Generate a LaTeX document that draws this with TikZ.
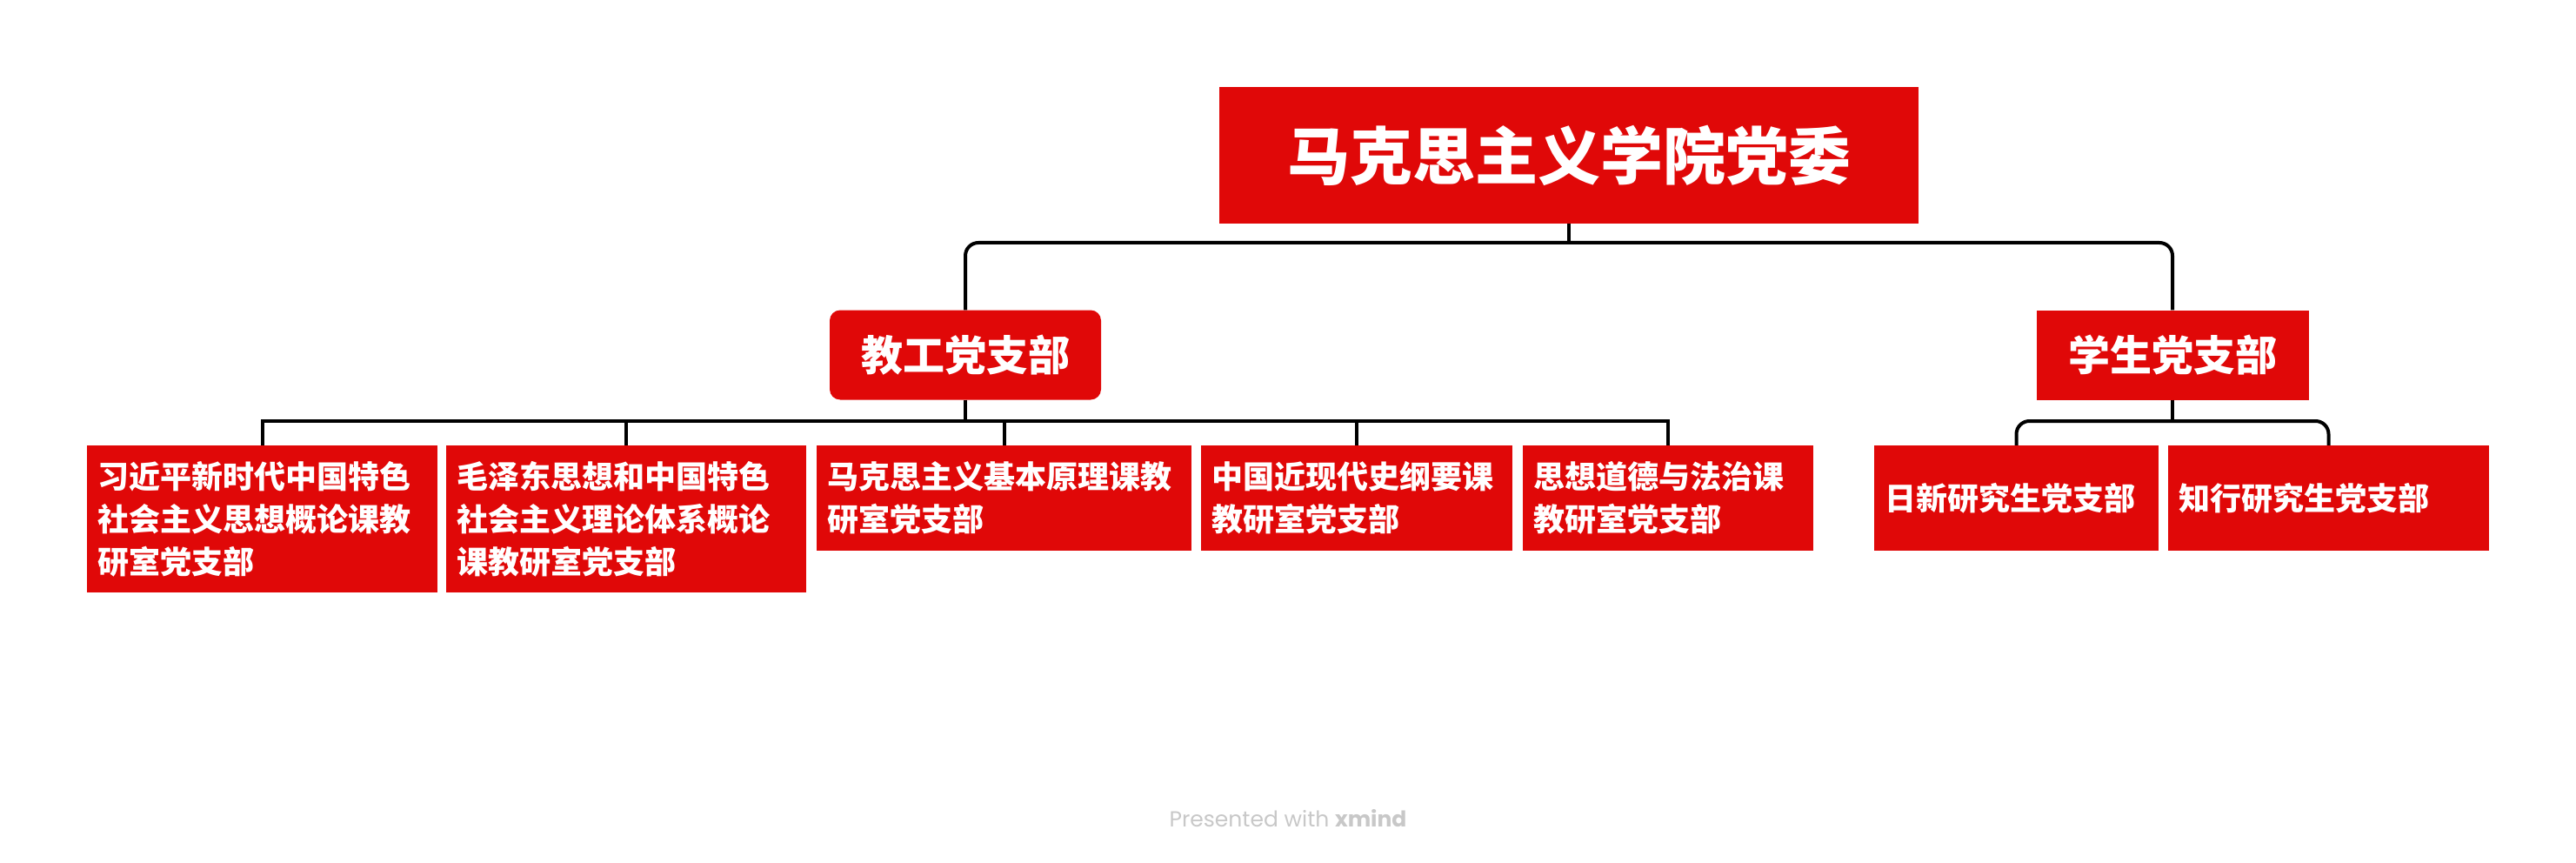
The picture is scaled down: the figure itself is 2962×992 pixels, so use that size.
\documentclass[tikz,border=0pt]{standalone}
\usepackage{fontspec}
\newfontfamily\cjk{Noto Sans CJK SC}
\newfontfamily\wmfont{Poppins}
\definecolor{xred}{RGB}{224,8,8}
\definecolor{wmgray}{RGB}{200,200,200}
\tikzset{
  box/.style={fill=xred, text=white, inner sep=0pt, font=\cjk\bfseries},
  rootbox/.style={box, minimum width=804pt, minimum height=157pt, font=\cjk\bfseries\fontsize{72}{80}\selectfont},
  midbox/.style={box, minimum height=103pt, font=\cjk\bfseries\fontsize{48}{56}\selectfont},
  leafbox/.style={box, inner xsep=12pt, inner ysep=0pt, align=left, text width=#1-24pt, font=\cjk\bfseries\fontsize{36}{49}\selectfont},
  conn/.style={draw=black, line width=4pt},
}
\begin{document}
\begin{tikzpicture}[x=1pt,y=-1pt]
\useasboundingbox[fill=white] (0,0) rectangle (2962,992);
% root
\node[rootbox] (root) at (1804,178.5) {马克思主义学院党委};
% second level
\node[midbox, minimum width=312pt, rounded corners=12pt] (jg) at (1110,408) {教工党支部};
\node[midbox, minimum width=313pt] (xs) at (2498,408) {学生党支部};
% leaves
\node[leafbox=403pt, minimum height=169pt] (c1) at (301.5,596.5) {习近平新时代中国特色\\社会主义思想概论课教\\研室党支部};
\node[leafbox=414pt, minimum height=169pt] (c2) at (720,596.5) {毛泽东思想和中国特色\\社会主义理论体系概论\\课教研室党支部};
\node[leafbox=431pt, minimum height=121pt] (c3) at (1154.5,572.5) {马克思主义基本原理课教\\研室党支部};
\node[leafbox=358pt, minimum height=121pt] (c4) at (1560,572.5) {中国近现代史纲要课\\教研室党支部};
\node[leafbox=334pt, minimum height=121pt] (c5) at (1918,572.5) {思想道德与法治课\\教研室党支部};
\node[leafbox=327pt, minimum height=121pt] (c6) at (2318.5,572.5) {日新研究生党支部};
\node[leafbox=369pt, minimum height=121pt] (c7) at (2677.5,572.5) {知行研究生党支部};
% junction points
\coordinate (rb) at (1804,279);
\coordinate (jb) at (1110,484);
\coordinate (xb) at (2498,484);
% connectors
\draw[conn] (root.south) -- (rb);
\draw[conn, rounded corners=15pt] (jg.north) |- (rb) -| (xs.north);
\draw[conn] (jg.south) -- (jb);
\draw[conn] (c1.north) |- (jb) -| (c5.north);
\draw[conn] (c2.north) -- (c2.north |- jb);
\draw[conn] (c3.north) -- (c3.north |- jb);
\draw[conn] (c4.north) -- (c4.north |- jb);
\draw[conn] (xs.south) -- (xb);
\draw[conn, rounded corners=15pt] (c6.north) |- (xb) -| (c7.north);
% watermark
\node[text=wmgray, font=\wmfont\fontsize{25}{30}\selectfont, inner sep=0pt] (wm) at (1481,941) {Presented with \textbf{xmind}};
\end{tikzpicture}
\end{document}
